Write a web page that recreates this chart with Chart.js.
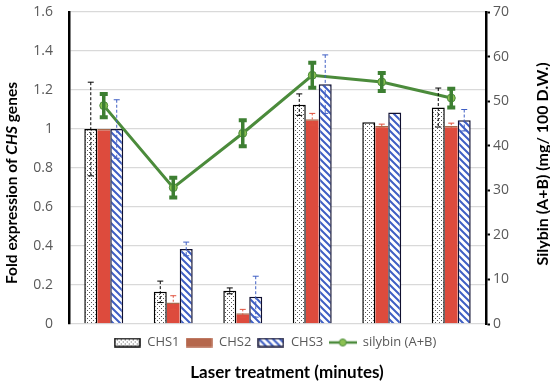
<!DOCTYPE html>
<html>
<head>
<meta charset="utf-8">
<script src="https://cdn.jsdelivr.net/npm/chart.js@4.4.1/dist/chart.umd.min.js"></script>
<style>
  html, body { margin: 0; padding: 0; background: #fff; }
</style>
</head>
<body>
<canvas id="chart" width="550" height="385"></canvas>
<script>
// x tick labels are not shown in the figure
const categories = ['0', '1', '2', '3', '4', '5']

const chs1 = [1.0, 0.165, 0.17, 1.125, 1.035, 1.11]
const chs2 = [1.0, 0.11, 0.055, 1.05, 1.015, 1.015]
const chs3 = [1.0, 0.385, 0.14, 1.23, 1.085, 1.045]
const silybin = [49.0, 30.6, 42.8, 55.8, 54.3, 50.7]

const chs1Err = [0.24, 0.055, 0.015, 0.055, 0, 0.1]
const chs2Err = [0, 0.035, 0.02, 0.03, 0.01, 0.015]
const chs3Err = [0.15, 0.035, 0.105, 0.15, 0, 0.055]
const silybinErr = [2.6, 2.2, 2.9, 2.8, 2.0, 2.1]

const FONT = '"Open Sans", Lato, sans-serif'
const TITLE_FONT = 'Lato, "Open Sans", sans-serif'

function dotPattern() {
  const c = document.createElement('canvas')
  c.width = 4; c.height = 4
  const g = c.getContext('2d')
  g.fillStyle = '#fff'
  g.fillRect(0, 0, 4, 4)
  g.fillStyle = '#555'
  g.fillRect(1, 0, 1, 1)
  g.fillRect(3, 2, 1, 1)
  return g.createPattern(c, 'repeat')
}

function stripePattern() {
  const s = 7
  const c = document.createElement('canvas')
  c.width = s; c.height = s
  const g = c.getContext('2d')
  g.fillStyle = '#fff'
  g.fillRect(0, 0, s, s)
  g.strokeStyle = '#3f5fc4'
  g.lineWidth = 2
  g.beginPath()
  g.moveTo(-1, -1); g.lineTo(s + 1, s + 1)
  g.moveTo(-s - 1, -1); g.lineTo(1, s + 1)
  g.moveTo(s - 1, -1); g.lineTo(2 * s + 1, s + 1)
  g.stroke()
  return g.createPattern(c, 'repeat')
}

const dots = dotPattern()
const stripes = stripePattern()

// legend swatches
function swatch(fill, border) {
  const c = document.createElement('canvas')
  c.width = 27; c.height = 10
  const g = c.getContext('2d')
  g.fillStyle = fill
  g.fillRect(1, 1, 25, 8)
  g.strokeStyle = border
  g.lineWidth = 1.5
  g.strokeRect(1, 1, 25, 8)
  return c
}
function lineSwatch() {
  const c = document.createElement('canvas')
  c.width = 28; c.height = 10
  const g = c.getContext('2d')
  g.strokeStyle = '#4b8b3b'
  g.lineWidth = 2.5
  g.beginPath(); g.moveTo(0, 5); g.lineTo(28, 5); g.stroke()
  g.fillStyle = '#8cc152'
  g.strokeStyle = '#4b8b3b'
  g.lineWidth = 1
  g.beginPath(); g.arc(14, 5, 3.5, 0, Math.PI * 2); g.fill(); g.stroke()
  return c
}
const legendIcons = [swatch(dots, '#000'), swatch('#b5674c', '#b5674c'), swatch(stripes, '#1a1a3a'), lineSwatch()]

const errorBars = {
  id: 'errorBars',
  afterDatasetsDraw(chart) {
    const ctx = chart.ctx
    chart.data.datasets.forEach((ds, i) => {
      const meta = chart.getDatasetMeta(i)
      if (!ds.errors || meta.hidden) return
      const scale = chart.scales[meta.yAxisID]
      const st = ds.errorStyle
      meta.data.forEach((el, j) => {
        const err = ds.errors[j]
        if (!err) return
        const x = el.x
        const top = scale.getPixelForValue(ds.data[j] + err)
        const bot = scale.getPixelForValue(ds.data[j] - err)
        ctx.save()
        ctx.strokeStyle = st.color
        ctx.lineWidth = st.width
        ctx.setLineDash(st.dash)
        ctx.beginPath()
        ctx.moveTo(x, top); ctx.lineTo(x, bot)
        ctx.stroke()
        ctx.setLineDash([])
        ctx.lineWidth = st.capWidth
        ctx.beginPath()
        ctx.moveTo(x - st.cap, top); ctx.lineTo(x + st.cap, top)
        ctx.moveTo(x - st.cap, bot); ctx.lineTo(x + st.cap, bot)
        ctx.stroke()
        ctx.restore()
      })
    })
  }
}

const axisTitles = {
  id: 'axisTitles',
  afterDraw(chart) {
    const ctx = chart.ctx
    ctx.save()
    ctx.fillStyle = '#000'
    ctx.textBaseline = 'middle'

    // left title, with italic gene name
    const parts = [
      ['Fold expression of ', 'bold 15.5px ' + TITLE_FONT],
      ['CHS', 'italic bold 15.5px ' + TITLE_FONT],
      [' genes', 'bold 15.5px ' + TITLE_FONT]
    ]
    let total = 0
    parts.forEach(p => { ctx.font = p[1]; total += ctx.measureText(p[0]).width })
    ctx.save()
    ctx.translate(12, 183)
    ctx.rotate(-Math.PI / 2)
    let x = -total / 2
    parts.forEach(p => {
      ctx.font = p[1]
      ctx.fillText(p[0], x, 0)
      x += ctx.measureText(p[0]).width
    })
    ctx.restore()

    // right title
    ctx.save()
    ctx.font = 'bold 16px ' + TITLE_FONT
    ctx.textAlign = 'center'
    ctx.translate(543, 164)
    ctx.rotate(-Math.PI / 2)
    ctx.fillText('Silybin (A+B) (mg/ 100 D.W.)', 0, 0)
    ctx.restore()

    // x title
    ctx.font = 'bold 17px ' + TITLE_FONT
    ctx.textAlign = 'center'
    ctx.fillText('Laser treatment (minutes)', 287, 373)
    ctx.restore()
  }
}

const noPad = (scale) => { scale.paddingTop = 0; scale.paddingBottom = 0 }

new Chart(document.getElementById('chart'), {
  type: 'bar',
  data: {
    labels: categories,
    datasets: [
      {
        label: 'CHS1',
        data: chs1,
        errors: chs1Err,
        errorStyle: { color: '#000', width: 1, dash: [3, 2], cap: 3, capWidth: 1 },
        backgroundColor: dots,
        borderColor: '#000',
        borderWidth: 1.5,
        yAxisID: 'y',
        order: 1
      },
      {
        label: 'CHS2',
        data: chs2,
        errors: chs2Err,
        errorStyle: { color: '#e0523f', width: 1, dash: [2, 2], cap: 3, capWidth: 1 },
        backgroundColor: '#dd4b3d',
        borderColor: '#a86a4c',
        borderWidth: { top: 1.5, bottom: 2, left: 0, right: 0 },
        yAxisID: 'y',
        order: 1
      },
      {
        label: 'CHS3',
        data: chs3,
        errors: chs3Err,
        errorStyle: { color: '#3f5fc4', width: 1, dash: [3, 2], cap: 3, capWidth: 1 },
        backgroundColor: stripes,
        borderColor: '#101030',
        borderWidth: 1.5,
        yAxisID: 'y',
        order: 1
      },
      {
        type: 'line',
        label: 'silybin (A+B)',
        data: silybin,
        errors: silybinErr,
        errorStyle: { color: '#3d7f32', width: 3.5, dash: [], cap: 4, capWidth: 4 },
        borderColor: '#4b8b3b',
        borderWidth: 3,
        pointRadius: 4,
        pointBackgroundColor: '#8cc152',
        pointBorderColor: '#4b8b3b',
        pointBorderWidth: 1,
        tension: 0,
        yAxisID: 'y1',
        order: 0
      }
    ]
  },
  options: {
    responsive: false,
    animation: false,
    layout: { padding: { top: 12, bottom: 26, left: 0, right: 0 } },
    datasets: {
      bar: { categoryPercentage: 0.56, barPercentage: 1.0 }
    },
    plugins: {
      tooltip: { enabled: false },
      legend: {
        position: 'bottom',
        labels: {
          usePointStyle: true,
          pointStyleWidth: 27,
          padding: 6,
          color: '#595959',
          font: { family: FONT, size: 13 },
          generateLabels: (chart) => {
            return chart.data.datasets.map((ds, i) => ({
              text: ds.label,
              datasetIndex: i,
              pointStyle: legendIcons[i],
              fillStyle: 'transparent',
              strokeStyle: 'transparent',
              lineWidth: 0,
              fontColor: '#595959',
              hidden: false
            }))
          }
        }
      }
    },
    scales: {
      x: {
        ticks: { display: false },
        grid: { display: false },
        border: { display: false },
        afterFit: (scale) => { scale.height = 6 }
      },
      y: {
        position: 'left',
        min: 0,
        max: 1.6,
        ticks: {
          stepSize: 0.2,
          padding: 16,
          color: '#595959',
          font: { family: FONT, size: 14 },
          callback: (v) => String(+v.toFixed(1))
        },
        grid: { color: '#d9d9d9', lineWidth: 1.3, drawTicks: false },
        border: { color: '#000', width: 2.5 },
        afterFit: (scale) => { scale.width = 69; noPad(scale) }
      },
      y1: {
        position: 'right',
        min: 0,
        max: 70,
        ticks: {
          stepSize: 10,
          padding: 3,
          color: '#595959',
          font: { family: FONT, size: 14 }
        },
        grid: { drawOnChartArea: false, color: '#000', tickLength: 4, tickWidth: 2 },
        border: { color: '#000', width: 2.5 },
        afterFit: (scale) => { scale.width = 64; noPad(scale) }
      }
    }
  },
  plugins: [errorBars, axisTitles]
})
</script>
</body>
</html>
